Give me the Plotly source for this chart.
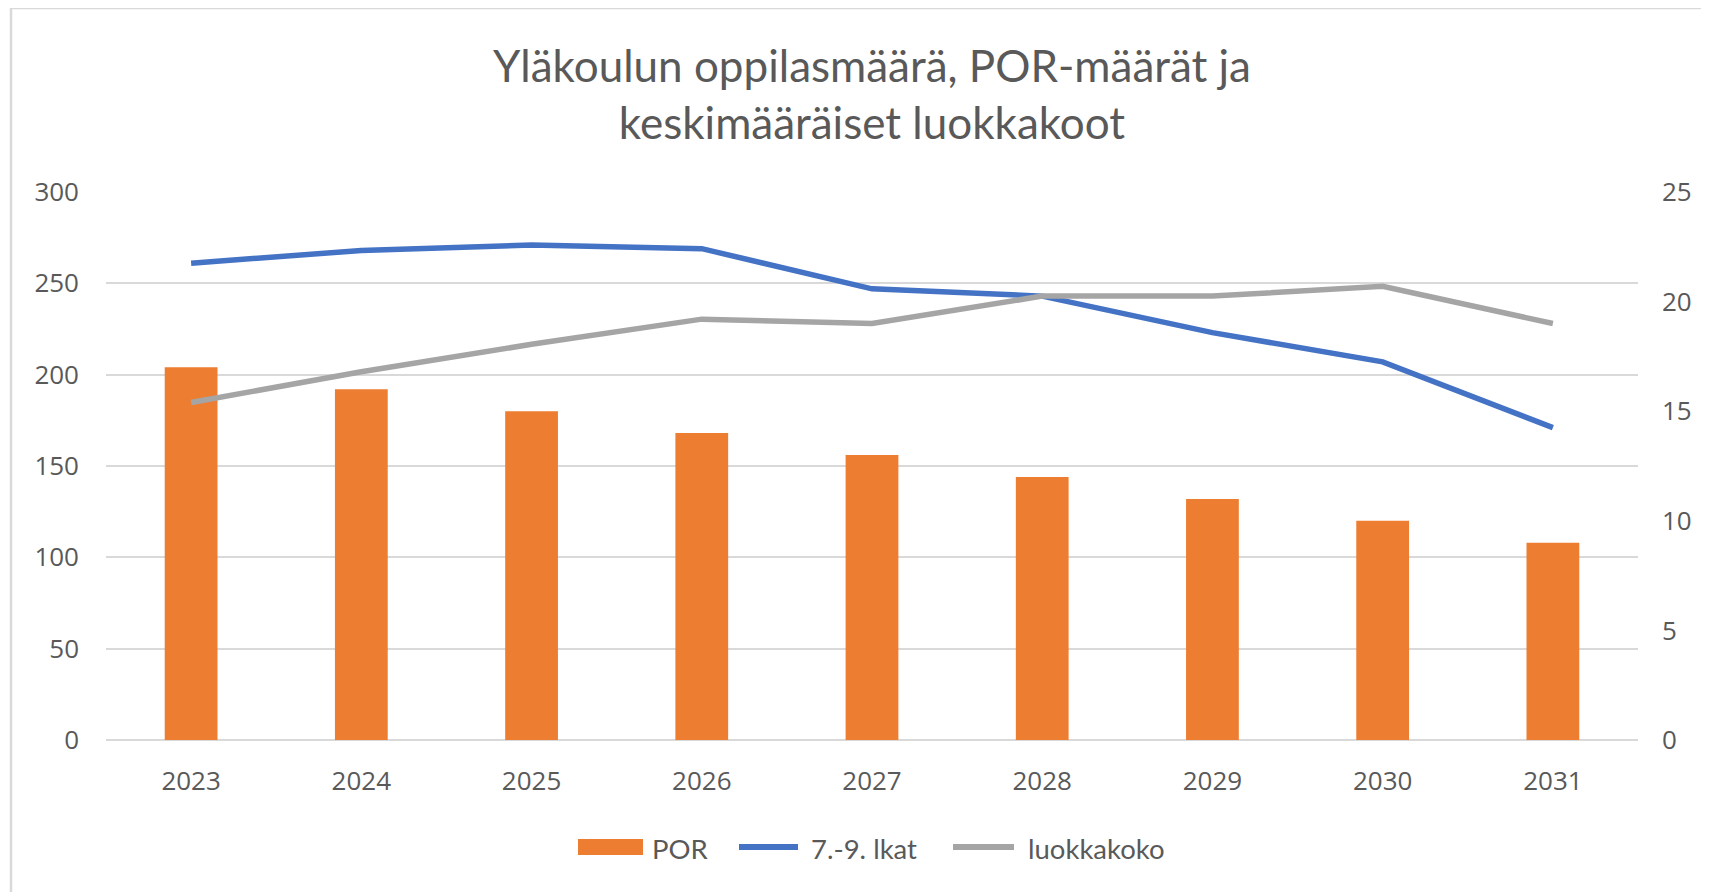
import plotly.graph_objects as go

years = ["2023", "2024", "2025", "2026", "2027", "2028", "2029", "2030", "2031"]
por = [204, 192, 180, 168, 156, 144, 132, 120, 108]
oppilaat = [261, 268, 271, 269, 247, 243, 223, 207, 171]
luokkakoko = [15.4, 16.8, 18.05, 19.2, 19.0, 20.25, 20.25, 20.7, 19.0]

ORANGE, BLUE, GRAY = "#ED7D31", "#4472C4", "#A5A5A5"
W, H = 1709, 892
OFF = 8  # page body margin
L, R, T, B = 106 - OFF, 1709 - (1638 - OFF), 192 - OFF, 892 - (740 - OFF)
pw, ph = W - L - R, H - T - B
TXT = "#595959"
GRID = "#D9D9D9"

fig = go.Figure()
fig.add_trace(go.Bar(x=years, y=por, name="POR", marker_color=ORANGE,
                     marker_line_width=0, width=0.31, yaxis="y"))
fig.add_trace(go.Scatter(x=years, y=oppilaat, name="7.-9. lkat", mode="lines",
                         line=dict(color=BLUE, width=5.5), yaxis="y"))
fig.add_trace(go.Scatter(x=years, y=luokkakoko, name="luokkakoko", mode="lines",
                         line=dict(color=GRAY, width=5.5), yaxis="y2"))

def px_x(sx):
    return (sx - OFF - L) / pw

def px_y(sy):
    return (H - B - (sy - OFF)) / ph

# custom legend (screen pixel positions)
legend_items = [
    ("POR", ORANGE, "rect", 578, 643, 650),
    ("7.-9. lkat", BLUE, "line", 736, 801, 809),
    ("luokkakoko", GRAY, "line", 950, 1017, 1026),
]
shapes = [
    dict(type="line", xref="paper", yref="paper", x0=px_x(11), x1=px_x(W + 20),
         y0=px_y(8), y1=px_y(8), line=dict(color=GRID, width=2.5)),
    dict(type="line", xref="paper", yref="paper", x0=px_x(11), x1=px_x(11),
         y0=px_y(8), y1=px_y(H + 20), line=dict(color=GRID, width=2.5)),
]
annotations = []
LEG_Y = 847
for name, col, kind, x0, x1, tx in legend_items:
    if kind == "rect":
        shapes.append(dict(type="rect", xref="paper", yref="paper",
                           x0=px_x(x0), x1=px_x(x1), y0=px_y(LEG_Y - 8), y1=px_y(LEG_Y + 8),
                           fillcolor=col, line=dict(width=0)))
    else:
        shapes.append(dict(type="line", xref="paper", yref="paper",
                           x0=px_x(x0 + 3), x1=px_x(x1 - 3), y0=px_y(LEG_Y), y1=px_y(LEG_Y),
                           line=dict(color=col, width=6)))
    annotations.append(dict(text=name, xref="paper", yref="paper", x=px_x(tx), y=px_y(LEG_Y + 1),
                            xanchor="left", yanchor="middle", showarrow=False,
                            font=dict(family="Lato", size=27.5, color=TXT)))

fig.update_layout(
    width=W, height=H,
    margin=dict(l=L, r=R, t=T, b=B, autoexpand=False),
    paper_bgcolor="white", plot_bgcolor="white",
    title=dict(text="Yläkoulun oppilasmäärä, POR-määrät ja<br>keskimääräiset luokkakoot",
               x=0.5, xref="paper", xanchor="center",
               y=1 - 74 / H, yref="container", yanchor="middle",
               font=dict(family="Lato", size=44, color=TXT)),
    font=dict(family="Open Sans", color=TXT),
    xaxis=dict(type="category", showgrid=False, showline=False, ticks="",
               tickfont=dict(family="Open Sans", size=26, color=TXT),
               ticklabelstandoff=23, range=[-0.5, 8.5], fixedrange=True),
    yaxis=dict(range=[0, 300], dtick=50, showgrid=True, gridcolor=GRID, gridwidth=2,
               zeroline=True, zerolinecolor=GRID, zerolinewidth=2, showline=False, ticks="",
               tickfont=dict(family="Open Sans", size=26, color=TXT), ticklabelstandoff=26),
    yaxis2=dict(range=[0, 25], dtick=5, overlaying="y", side="right", showgrid=False,
                zeroline=False, showline=False, ticks="",
                tickfont=dict(family="Open Sans", size=26, color=TXT), ticklabelstandoff=23),
    showlegend=False,
    shapes=shapes,
    annotations=annotations,
)

fig.write_html("out.html")
